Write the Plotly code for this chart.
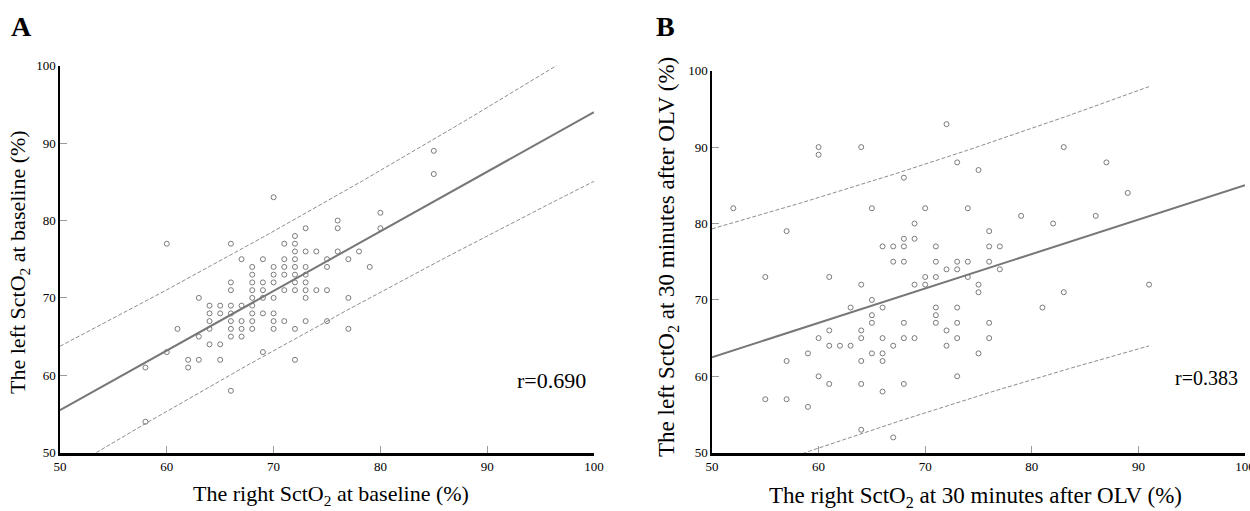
import numpy as np
import plotly.graph_objects as go

# ---------------- data ----------------
# Panel A: right vs left SctO2 at baseline
a_right = [58, 58, 60, 60, 61, 62, 62, 63, 63, 63,
           64, 64, 64, 64, 64, 65, 65, 65, 65,
           66, 66, 66, 66, 66, 66, 66, 66, 66,
           67, 67, 67, 67, 67,
           68, 68, 68, 68, 68, 68, 68, 68, 68,
           69, 69, 69, 69, 69, 69,
           70, 70, 70, 70, 70, 70, 70, 70,
           71, 71, 71, 71, 71, 71,
           72, 72, 72, 72, 72, 72, 72, 72, 72, 72,
           73, 73, 73, 73, 73, 73, 73, 73,
           74, 74, 75, 75, 75, 75, 76, 76, 76,
           77, 77, 77, 78, 79, 80, 80, 85, 85]
a_left = [61, 54, 77, 63, 66, 62, 61, 70, 65, 62,
          69, 68, 67, 66, 64, 69, 68, 64, 62,
          77, 72, 71, 69, 68, 67, 66, 65, 58,
          75, 69, 67, 66, 65,
          74, 73, 72, 71, 70, 69, 68, 67, 66,
          75, 72, 71, 70, 68, 63,
          83, 74, 73, 72, 70, 68, 67, 66,
          77, 75, 74, 73, 71, 67,
          78, 77, 76, 75, 74, 73, 72, 71, 66, 62,
          79, 76, 74, 73, 72, 71, 70, 67,
          76, 71, 75, 74, 71, 67, 80, 79, 76,
          75, 70, 66, 76, 74, 81, 79, 89, 86]

# Panel B: right vs left SctO2 at 30 minutes after OLV
b_right = [52, 55, 55, 57, 57, 57, 59, 59,
           60, 60, 60, 60, 61, 61, 61, 61, 62, 63, 63,
           64, 64, 64, 64, 64, 64, 64,
           65, 65, 65, 65, 65,
           66, 66, 66, 66, 66, 66,
           67, 67, 67, 67,
           68, 68, 68, 68, 68, 68, 68,
           69, 69, 69, 69, 70, 70, 70,
           71, 71, 71, 71, 71, 71,
           72, 72, 72, 72,
           73, 73, 73, 73, 73, 73, 73,
           74, 74, 74, 75, 75, 75, 75,
           76, 76, 76, 76, 76, 77, 77,
           79, 81, 82, 83, 83, 86, 87, 89, 91]
b_left = [82, 73, 57, 79, 62, 57, 63, 56,
          90, 89, 65, 60, 73, 66, 64, 59, 64, 69, 64,
          90, 72, 66, 65, 62, 59, 53,
          82, 70, 68, 67, 63,
          77, 69, 65, 63, 62, 58,
          77, 75, 64, 52,
          86, 78, 77, 75, 67, 65, 59,
          80, 78, 72, 65, 82, 73, 72,
          77, 75, 73, 69, 68, 67,
          93, 74, 66, 64,
          88, 75, 74, 69, 67, 65, 60,
          82, 75, 73, 87, 72, 71, 63,
          79, 77, 75, 67, 65, 77, 74,
          81, 69, 80, 90, 71, 81, 88, 84, 72]

# fitted lines: y at x=50 and x=100
fit_a_ends = [55.5, 94.0]
fit_b_ends = [62.5, 85.0]
# half-width of the 95% prediction band at x=50
pi_half_a_at50 = 8.25
pi_half_b_at50 = 16.8
pi_range_a = [50, 100]
pi_range_b = [50, 91]

r_text_a = "r=0.690"
r_text_b = "r=0.383"
axis_range = [50, 100]
tick_vals = [50, 60, 70, 80, 90, 100]

x_title_a = "The right SctO<sub>2</sub> at baseline (%)"
y_title_a = "The left SctO<sub>2</sub> at baseline (%)"
x_title_b = "The right SctO<sub>2</sub> at 30 minutes after OLV (%)"
y_title_b = "The left SctO<sub>2</sub> at 30 minutes after OLV (%)"


def bands(xs, ends, half50, pi_rng):
    x = np.asarray(xs, float)
    n = len(x)
    xb = x.mean()
    sxx = ((x - xb) ** 2).sum()
    slope = (ends[1] - ends[0]) / (axis_range[1] - axis_range[0])
    icpt = ends[0] - slope * axis_range[0]
    shape = lambda v: np.sqrt(1 + 1 / n + (v - xb) ** 2 / sxx)
    k = half50 / shape(axis_range[0])
    xl = np.array(axis_range, float)
    yl = icpt + slope * xl
    xp = np.linspace(pi_rng[0], pi_rng[1], 201)
    yp = icpt + slope * xp
    half = k * shape(xp)
    return xl, yl, xp, yp + half, yp - half


FONT = "Liberation Serif, Times New Roman, serif"
PT_COLOR = "#7a7a7a"
LINE_COLOR = "#777777"
DASH_COLOR = "#8c8c8c"

fig = go.Figure()

for xs, ys, ends, h50, rng, xa, ya in [
        (a_right, a_left, fit_a_ends, pi_half_a_at50, pi_range_a, "x", "y"),
        (b_right, b_left, fit_b_ends, pi_half_b_at50, pi_range_b, "x2", "y2")]:
    xl, yl, xp, up, lo = bands(xs, ends, h50, rng)
    for yy in (up, lo):
        fig.add_trace(go.Scatter(x=xp, y=yy, mode="lines", xaxis=xa, yaxis=ya,
                                 line=dict(color=DASH_COLOR, width=1, dash="4px,2px"),
                                 hoverinfo="skip"))
    fig.add_trace(go.Scatter(x=xl, y=yl, mode="lines", xaxis=xa, yaxis=ya,
                             line=dict(color=LINE_COLOR, width=2)))
    fig.add_trace(go.Scatter(x=xs, y=ys, mode="markers", xaxis=xa, yaxis=ya,
                             marker=dict(symbol="circle-open", size=5,
                                         color=PT_COLOR, line=dict(width=1))))

W, H = 1250, 511
axA_x = [60 / W, 594 / W]
axB_x = [712 / W, 1245 / W]
axA_y = [1 - 452.7 / H, 1 - 65.7 / H]
axB_y = [1 - 452.7 / H, 1 - 70.7 / H]

common = dict(range=axis_range, tickvals=tick_vals, ticks="inside", ticklen=7,
              tickwidth=1, tickcolor="#9a9a9a", showgrid=False, zeroline=False,
              showline=True, linecolor="black", automargin=False,
              ticklabeloverflow="allow",
              tickfont=dict(family=FONT, size=13, color="#000000"))

fig.update_layout(
    template="none",
    width=W, height=H, margin=dict(l=0, r=0, t=0, b=0, pad=0),
    paper_bgcolor="white", plot_bgcolor="white", showlegend=False,
    font=dict(family=FONT, color="#000000"),
    xaxis=dict(domain=axA_x, anchor="y", linewidth=2.5, **common),
    yaxis=dict(domain=axA_y, anchor="x", linewidth=1.5, **common),
    xaxis2=dict(domain=axB_x, anchor="y2", linewidth=2.5, **common),
    yaxis2=dict(domain=axB_y, anchor="x2", linewidth=1.5, **common),
)

ann = [
    dict(text="<b>A</b>", x=9 / W, y=1 - 26 / H, xanchor="left", yanchor="middle",
         font=dict(size=28)),
    dict(text="<b>B</b>", x=654 / W, y=1 - 26 / H, xanchor="left", yanchor="middle",
         font=dict(size=28)),
    dict(text=x_title_a, x=331 / W, y=1 - 495 / H, xanchor="center", yanchor="middle",
         font=dict(size=22)),
    dict(text=y_title_a, x=19 / W, y=1 - 262 / H, xanchor="center", yanchor="middle",
         textangle=-90, font=dict(size=22)),
    dict(text=x_title_b, x=975 / W, y=1 - 497 / H, xanchor="center", yanchor="middle",
         font=dict(size=23)),
    dict(text=y_title_b, x=668 / W, y=1 - 257 / H, xanchor="center", yanchor="middle",
         textangle=-90, font=dict(size=23)),
    dict(text=r_text_a, x=551 / W, y=1 - 380 / H, xanchor="center", yanchor="middle",
         font=dict(size=22)),
    dict(text=r_text_b, x=1206 / W, y=1 - 378 / H, xanchor="center", yanchor="middle",
         font=dict(size=20)),
]
for a in ann:
    a.update(xref="paper", yref="paper", showarrow=False)
    a["font"].update(family=FONT, color="#000000")
fig.update_layout(annotations=ann)

fig.write_html(
    "out.html",
    config={"displayModeBar": False},
    post_script="document.body.style.margin='0';document.body.style.overflow='hidden';",
)
